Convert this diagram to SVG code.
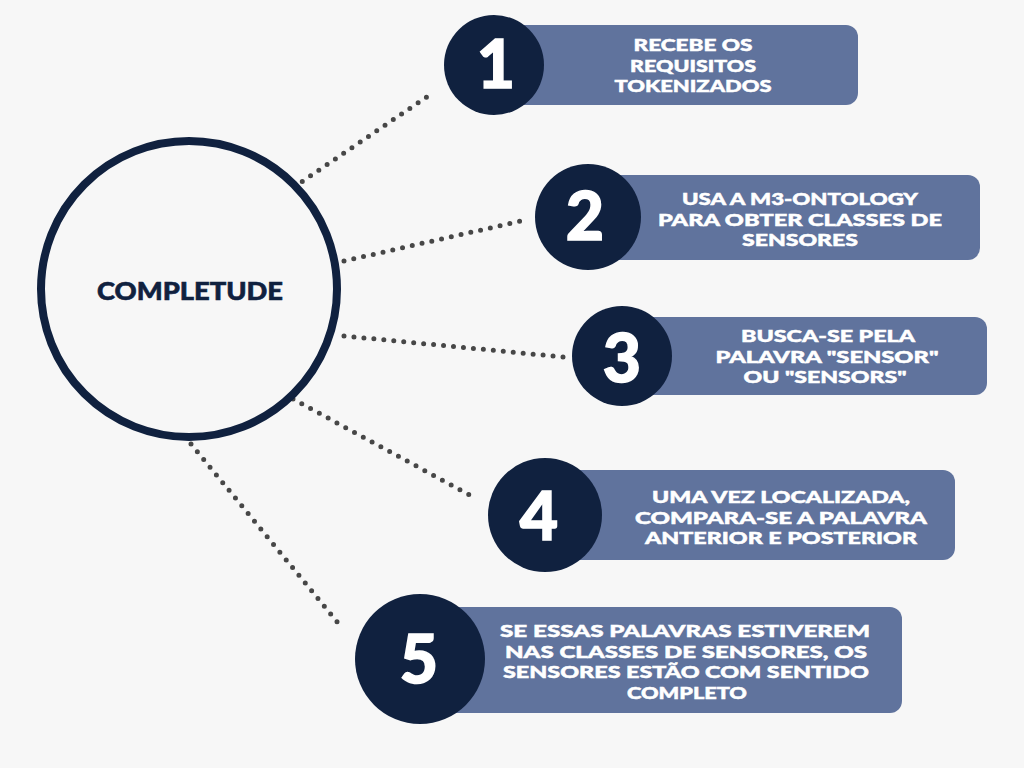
<svg xmlns="http://www.w3.org/2000/svg" width="1024" height="768" viewBox="0 0 1024 768">
<style>
.bg{fill:#f7f7f7}
.dot{fill:none;stroke:#474747;stroke-width:5;stroke-linecap:round;stroke-dasharray:0 10}
.box{fill:#60739d}
.num{fill:#10213f}
.numt{fill:#ffffff;stroke:#ffffff;stroke-width:1.5;font-family:Lato,"Liberation Sans",sans-serif;font-weight:900;font-size:66px;text-anchor:middle}
.lbl{fill:#ffffff;stroke:#ffffff;stroke-width:0.5;font-family:Lato,"Liberation Sans",sans-serif;font-weight:900;font-size:17px;text-anchor:middle}
.hub{fill:#f7f7f7;stroke:#10213f;stroke-width:8}
.hubt{fill:#10213f;stroke:#10213f;stroke-width:0.6;font-family:Lato,"Liberation Sans",sans-serif;font-weight:900;font-size:25px;text-anchor:middle}
</style>
<rect class="bg" x="0" y="0" width="1024" height="768"/>
<g id="connectors">
<line class="dot" x1="294" y1="187" x2="434" y2="92"/>
<line class="dot" x1="344" y1="261" x2="521" y2="221"/>
<line class="dot" x1="344" y1="336" x2="563" y2="357"/>
<line class="dot" x1="293" y1="399" x2="477" y2="499"/>
<line class="dot" x1="191" y1="444" x2="343" y2="629"/>
</g>
<g id="hub">
<circle class="hub" cx="189" cy="289" r="148"/>
<text class="hubt" x="190" y="300" textLength="186" lengthAdjust="spacingAndGlyphs">COMPLETUDE</text>
</g>
<g id="step1">
<rect class="box" x="494" y="25" width="364" height="80" rx="12"/>
<circle class="num" cx="494" cy="65" r="50"/>
<text class="numt" x="496" y="88">1</text>
<text class="lbl"><tspan x="693" y="51" textLength="119" lengthAdjust="spacingAndGlyphs">RECEBE OS</tspan><tspan x="693" y="71.5" textLength="126" lengthAdjust="spacingAndGlyphs">REQUISITOS</tspan><tspan x="693" y="92" textLength="157" lengthAdjust="spacingAndGlyphs">TOKENIZADOS</tspan></text>
</g>
<g id="step2">
<rect class="box" x="588" y="175" width="392" height="85" rx="12"/>
<circle class="num" cx="588" cy="217" r="53"/>
<text class="numt" x="585" y="240">2</text>
<text class="lbl"><tspan x="800" y="205" textLength="236" lengthAdjust="spacingAndGlyphs">USA A M3-ONTOLOGY</tspan><tspan x="800" y="225.5" textLength="284" lengthAdjust="spacingAndGlyphs">PARA OBTER CLASSES DE</tspan><tspan x="800" y="246" textLength="116" lengthAdjust="spacingAndGlyphs">SENSORES</tspan></text>
</g>
<g id="step3">
<rect class="box" x="622" y="317" width="365" height="78" rx="12"/>
<circle class="num" cx="622" cy="356" r="50"/>
<text class="numt" x="622" y="382">3</text>
<text class="lbl"><tspan x="828" y="342" textLength="174" lengthAdjust="spacingAndGlyphs">BUSCA-SE PELA</tspan><tspan x="827" y="362.5" textLength="223" lengthAdjust="spacingAndGlyphs">PALAVRA "SENSOR"</tspan><tspan x="825" y="383" textLength="163" lengthAdjust="spacingAndGlyphs">OU "SENSORS"</tspan></text>
</g>
<g id="step4">
<rect class="box" x="545" y="470" width="410" height="90" rx="12"/>
<circle class="num" cx="545" cy="515" r="57"/>
<text class="numt" x="539" y="540">4</text>
<text class="lbl"><tspan x="781" y="503" textLength="258" lengthAdjust="spacingAndGlyphs">UMA VEZ LOCALIZADA,</tspan><tspan x="781" y="523.5" textLength="292" lengthAdjust="spacingAndGlyphs">COMPARA-SE A PALAVRA</tspan><tspan x="781" y="544" textLength="272" lengthAdjust="spacingAndGlyphs">ANTERIOR E POSTERIOR</tspan></text>
</g>
<g id="step5">
<rect class="box" x="420" y="607" width="482" height="106" rx="12"/>
<circle class="num" cx="420" cy="659" r="65"/>
<text class="numt" x="419" y="683">5</text>
<text class="lbl"><tspan x="685" y="637" textLength="370" lengthAdjust="spacingAndGlyphs">SE ESSAS PALAVRAS ESTIVEREM</tspan><tspan x="686" y="657.5" textLength="362" lengthAdjust="spacingAndGlyphs">NAS CLASSES DE SENSORES, OS</tspan><tspan x="686" y="678" textLength="366" lengthAdjust="spacingAndGlyphs">SENSORES ESTÃO COM SENTIDO</tspan><tspan x="687" y="698.5" textLength="120" lengthAdjust="spacingAndGlyphs">COMPLETO</tspan></text>
</g>
</svg>
